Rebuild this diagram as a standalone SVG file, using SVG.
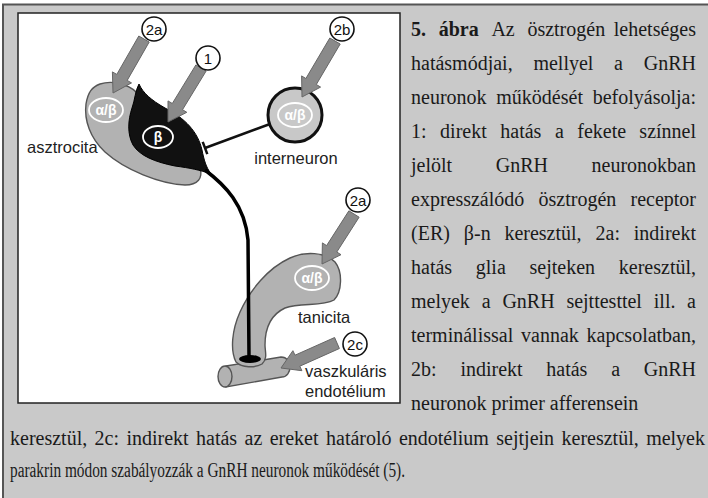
<svg xmlns="http://www.w3.org/2000/svg" width="708" height="498" viewBox="0 0 708 498">
  <style>
    .cap { font-family: "Liberation Serif", "Times New Roman", serif; font-size: 20px; fill: #1a1a1a; }
    .capb { font-weight: bold; }
    .lbl { font-family: "Liberation Sans", Arial, sans-serif; font-size: 16.5px; fill: #222; }
    .num { font-family: "Liberation Sans", Arial, sans-serif; font-size: 15px; fill: #111; text-anchor: middle; }
    .numc { fill: #fff; stroke: #111; stroke-width: 1.6; }
    .arrow { fill: #8a8a8a; stroke: #666; stroke-width: 1; stroke-linejoin: miter; }
    .glia { fill: #b2b2b2; stroke: #555; stroke-width: 1.4; }
    .rec { fill: none; stroke: #fff; stroke-width: 1.8; }
    .rect { font-family: "Liberation Sans", Arial, sans-serif; font-size: 14px; font-weight: bold; fill: #fff; text-anchor: middle; }
    .end { text-anchor: end; }
  </style>

  <!-- page frame -->
  <rect x="0" y="0" width="708" height="498" fill="#fff"/>
  <rect x="3" y="5" width="705" height="493" fill="#c9c9c9"/>
  <line x1="2" y1="4.5" x2="708" y2="4.5" stroke="#555" stroke-width="2"/>
  <line x1="3" y1="4" x2="3" y2="498" stroke="#555" stroke-width="2"/>
  <rect x="18" y="13" width="382" height="390" fill="#fff" stroke="#222" stroke-width="1.5"/>

  <!-- vessel -->
  <g id="vessel">
    <path class="glia" d="M 226,366 L 281,357 C 287,357 290,362 290,367 C 290,372 287,377 282,377 L 226,387 Z"/>
    <ellipse class="glia" cx="225" cy="376.5" rx="7" ry="10.5"/>
  </g>

  <!-- astrocyte -->
  <g id="asztrocita">
    <path class="glia" d="M 100,84 C 112,80 128,84 136,92 L 200,168 C 203,178 198,185 185,185 C 160,184 125,170 105,152 C 90,138 84,120 86,104 C 88,92 92,87 100,84 Z"/>
    <ellipse class="rec" cx="106" cy="110" rx="17" ry="12"/>
    <text class="rect" x="106" y="115">α/β</text>
  </g>

  <!-- GnRH neuron soma -->
  <g id="gnrh-neuron">
    <path d="M 139,84 C 143,93 151,100 165,108 C 185,118 198,132 202,150 C 204,160 206,167 211,174 C 200,170 190,168 175,166 C 155,162 140,156 133,145 C 127,134 128,120 132,108 C 135,100 135,91 139,84 Z" fill="#111" stroke="#000" stroke-width="1"/>
    <ellipse class="rec" cx="158" cy="137" rx="15" ry="11"/>
    <text class="rect" x="158" y="142" font-weight="normal">β</text>
  </g>

  <!-- tanycyte -->
  <g id="tanicita">
    <path class="glia" d="M 236,362 C 230,350 232,330 240,312 C 250,290 268,268 290,258 C 305,251 325,252 335,262 C 343,272 342,292 334,300 C 322,307 300,302 285,308 C 270,315 265,330 265,345 C 265,352 268,358 262,364 C 255,368 242,368 236,362 Z"/>
    <ellipse class="rec" cx="312" cy="278" rx="17" ry="12"/>
    <text class="rect" x="312" y="283">α/β</text>
  </g>

  <!-- interneuron -->
  <g id="interneuron">
    <circle cx="295" cy="115" r="27" fill="#c8c8c8" stroke="#111" stroke-width="3"/>
    <ellipse class="rec" cx="295" cy="115" rx="17" ry="12"/>
    <text class="rect" x="295" y="120">α/β</text>
  </g>

  <!-- axon, terminal and inhibitory synapse -->
  <g id="connectors">
    <path d="M 205,170 C 225,185 245,205 248,240 L 249,356" fill="none" stroke="#000" stroke-width="3.5"/>
    <ellipse cx="250" cy="359" rx="11" ry="4" fill="#000"/>
    <line x1="270" y1="124" x2="205" y2="148" stroke="#111" stroke-width="2.5"/>
    <line x1="202.7" y1="141.9" x2="207.3" y2="154.1" stroke="#111" stroke-width="2.5"/>
    <polygon class="arrow" points="138.8,36 116.8,74.4 112.4,71.9 113,93 131.5,82.9 127.2,80.4 149.2,42"/>
    <polygon class="arrow" points="195.9,64.9 172.3,103.5 168,100.9 168,122 186.8,112.3 182.5,109.7 206.1,71.1"/>
    <polygon class="arrow" points="329.8,38 305.9,78.5 301.6,75.9 302,97 320.6,87.1 316.3,84.5 340.2,44"/>
    <polygon class="arrow" points="348.9,210.8 326.6,245.6 322.4,242.9 322,264 341,254.7 336.8,252 359.1,217.2"/>
    <polygon class="arrow" points="334.6,337.5 295,355.2 292.9,350.7 281,368 301.9,370.7 299.8,366.2 339.4,348.5"/>
  </g>

  <!-- numbered markers -->
  <g id="m-2a-top"><circle class="numc" cx="154" cy="29" r="12"/><text class="num" x="154" y="34.5">2a</text></g>
  <g id="m-1"><circle class="numc" cx="208" cy="58" r="12"/><text class="num" x="208" y="63.5">1</text></g>
  <g id="m-2b"><circle class="numc" cx="342" cy="29" r="12"/><text class="num" x="342" y="34.5">2b</text></g>
  <g id="m-2a-right"><circle class="numc" cx="358" cy="200" r="12"/><text class="num" x="358" y="205.5">2a</text></g>
  <g id="m-2c"><circle class="numc" cx="355" cy="344" r="12"/><text class="num" x="355" y="349.5">2c</text></g>

  <!-- cell labels -->
  <g id="labels">
    <text class="lbl" x="27" y="153">asztrocita</text>
    <text class="lbl" x="296" y="164" text-anchor="middle">interneuron</text>
    <text class="lbl" x="298" y="323">tanicita</text>
    <text class="lbl" x="305" y="377">vaszkuláris</text>
    <text class="lbl" x="305" y="397">endotélium</text>
  </g>

  <!-- figure caption -->
  <g id="caption" class="cap">
    <text y="36"><tspan x="411" class="capb">5.</tspan><tspan x="438.7" class="capb">ábra</tspan><tspan x="491.4">Az</tspan><tspan x="527.4">ösztrogén</tspan></text>
    <text y="36" x="696" class="end">lehetséges</text>

    <text y="70"><tspan x="411">hatásmódjai,</tspan><tspan x="533.4">mellyel</tspan><tspan x="614.1">a</tspan></text>
    <text y="70" x="696" class="end">GnRH</text>

    <text y="104"><tspan x="411">neuronok</tspan><tspan x="496.3">működését</tspan></text>
    <text y="104" x="696" class="end">befolyásolja:</text>

    <text y="138"><tspan x="411">1:</tspan><tspan x="440.1">direkt</tspan><tspan x="500.3">hatás</tspan><tspan x="554.9">a</tspan><tspan x="577.3">fekete</tspan></text>
    <text y="138" x="696" class="end">színnel</text>

    <text y="172"><tspan x="411">jelölt</tspan><tspan x="495.7">GnRH</tspan></text>
    <text y="172" x="696" class="end">neuronokban</text>

    <text y="206"><tspan x="411">expresszálódó</tspan><tspan x="538.5">ösztrogén</tspan></text>
    <text y="206" x="696" class="end">receptor</text>

    <text y="240"><tspan x="411">(ER)</tspan><tspan x="463.8">β-n</tspan><tspan x="504.4">keresztül,</tspan><tspan x="595.5">2a:</tspan></text>
    <text y="240" x="696" class="end">indirekt</text>

    <text y="274"><tspan x="411">hatás</tspan><tspan x="475.8">glia</tspan><tspan x="529.5">sejteken</tspan></text>
    <text y="274" x="696" class="end">keresztül,</text>

    <text y="308"><tspan x="411">melyek</tspan><tspan x="481.7">a</tspan><tspan x="502.4">GnRH</tspan><tspan x="566.4">sejttesttel</tspan><tspan x="653.8">ill.</tspan></text>
    <text y="308" x="696" class="end">a</text>

    <text y="342"><tspan x="411">terminálissal</tspan><tspan x="521">vannak</tspan></text>
    <text y="342" x="696" class="end">kapcsolatban,</text>

    <text y="376"><tspan x="411">2b:</tspan><tspan x="460.4">indirekt</tspan><tspan x="546.3">hatás</tspan><tspan x="611.2">a</tspan></text>
    <text y="376" x="696" class="end">GnRH</text>

    <text y="410" x="411">neuronok primer afferensein</text>

    <text y="445"><tspan x="10">keresztül,</tspan><tspan x="94.6">2c:</tspan><tspan x="126.4">indirekt</tspan><tspan x="196">hatás</tspan><tspan x="244.5">az</tspan><tspan x="269.7">ereket</tspan><tspan x="326">határoló</tspan><tspan x="398.9">endotélium</tspan><tspan x="496.3">sejtjein</tspan><tspan x="561.5">keresztül,</tspan></text>
    <text y="445" x="705" class="end">melyek</text>

    <text y="477" x="10" textLength="395" lengthAdjust="spacingAndGlyphs">parakrin módon szabályozzák a GnRH neuronok működését (5).</text>
  </g>
</svg>
